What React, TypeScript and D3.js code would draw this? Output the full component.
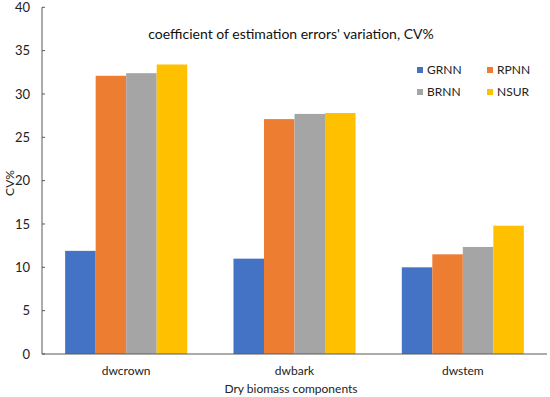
import React, { useEffect, useRef } from "react";
import * as d3 from "d3";

const categories = ["dwcrown", "dwbark", "dwstem"];
const seriesNames = ["GRNN", "RPNN", "BRNN", "NSUR"];
const GRNN = [11.9, 11.0, 10.0];
const RPNN = [32.1, 27.1, 11.5];
const BRNN = [32.4, 27.7, 12.35];
const NSUR = [33.4, 27.8, 14.8];
const yTicks = [0, 5, 10, 15, 20, 25, 30, 35, 40];
const colors = ["#4472C4", "#ED7D31", "#A5A5A5", "#FFC000"];

const W = 550;
const H = 397;
const FONT = "Lato, 'Open Sans', sans-serif";

export default function App() {
  const ref = useRef<SVGSVGElement>(null);
  useEffect(() => {
    const svg = d3.select(ref.current);
    svg.selectAll("*").remove();
    const seriesVals = [GRNN, RPNN, BRNN, NSUR];
    const x0 = d3.scaleBand().domain(categories).range([42, 547]).paddingInner(0.275).paddingOuter(0.1375);
    const x1 = d3.scaleBand().domain(seriesNames).range([0, x0.bandwidth()]);
    const y = d3.scaleLinear().domain([0, 40]).range([354, 7.3]);

    categories.forEach((c, ci) => {
      seriesNames.forEach((s, si) => {
        const v = seriesVals[si][ci];
        svg.append("rect")
          .attr("x", (x0(c) as number) + (x1(s) as number))
          .attr("y", y(v))
          .attr("width", x1.bandwidth())
          .attr("height", y(0) - y(v))
          .attr("fill", colors[si]);
      });
    });

    const gy = svg.append("g");
    gy.append("line").attr("x1", 42).attr("x2", 42).attr("y1", y(40)).attr("y2", y(0)).attr("stroke", "#595959").attr("stroke-width", 1);
    yTicks.forEach((t) => {
      gy.append("line").attr("x1", 42).attr("x2", 45).attr("y1", y(t)).attr("y2", y(t)).attr("stroke", "#595959");
      gy.append("text").attr("x", 30).attr("y", y(t)).attr("dy", "0.35em").attr("text-anchor", "end")
        .attr("font-family", FONT).attr("font-size", 13).attr("fill", "#222").text(String(t));
    });
    svg.append("line").attr("x1", 42).attr("x2", 547).attr("y1", y(0)).attr("y2", y(0)).attr("stroke", "#595959");
    categories.forEach((c) => {
      svg.append("text").attr("x", (x0(c) as number) + x0.bandwidth() / 2).attr("y", 375).attr("text-anchor", "middle")
        .attr("font-family", FONT).attr("font-size", 12).attr("fill", "#222").text(c);
    });
    svg.append("text").attr("x", 291).attr("y", 393).attr("text-anchor", "middle")
      .attr("font-family", FONT).attr("font-size", 12).attr("fill", "#222").text("Dry biomass components");
    svg.append("text").attr("transform", "translate(14,183) rotate(-90)").attr("text-anchor", "middle")
      .attr("font-family", FONT).attr("font-size", 12).attr("fill", "#222").text("CV%");

    svg.append("text").attr("x", 291).attr("y", 39).attr("text-anchor", "middle")
      .attr("font-family", FONT).attr("font-size", 14).attr("fill", "#111")
      .text("coefficient of estimation errors' variation, CV%");

    const legPos = [[417, 70], [487, 70], [417, 92], [487, 92]];
    seriesNames.forEach((s, i) => {
      const [lx, ly] = legPos[i];
      svg.append("rect").attr("x", lx).attr("y", ly - 3).attr("width", 6).attr("height", 6).attr("fill", colors[i]);
      svg.append("text").attr("x", lx + 10).attr("y", ly).attr("dy", "0.35em")
        .attr("font-family", FONT).attr("font-size", 12).attr("fill", "#222").text(s);
    });
  }, []);
  return (
    <svg ref={ref} width={W} height={H} style={{ position: "absolute", left: 0, top: 0, background: "#fff" }} />
  );
}
